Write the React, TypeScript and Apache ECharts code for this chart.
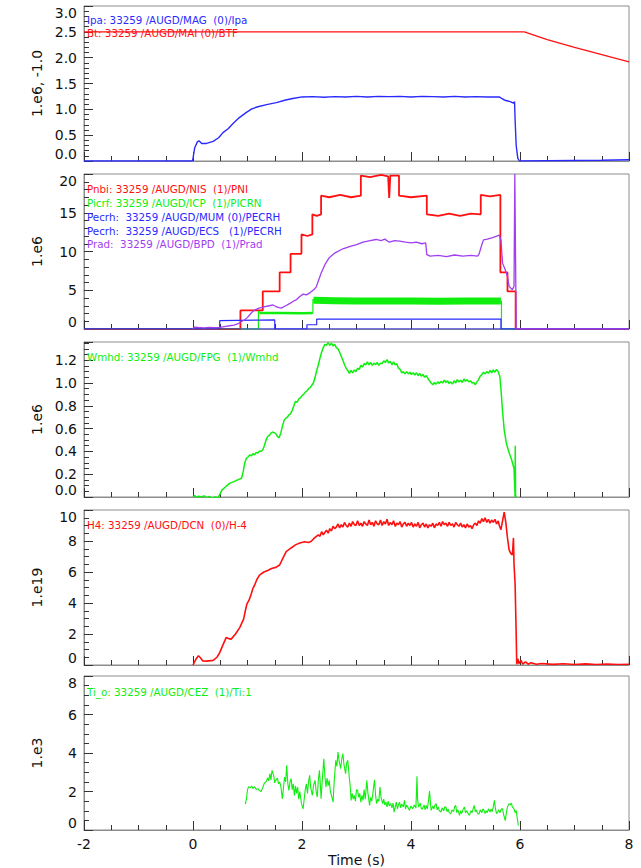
import React, { useEffect, useRef } from "react";
import * as echarts from "echarts";

// ---------------- DATA ----------------
const xTicks = [-2, 0, 2, 4, 6, 8];

// Panel 1 (1.e6, -1.0)
const btData: number[][] = [
  [-2, 2.5], [-1, 2.5], [0, 2.5], [1, 2.5], [2, 2.5], [3, 2.5], [4, 2.5], [5, 2.5], [6.08, 2.5],
  [6.5, 2.35], [7, 2.2], [7.5, 2.06], [8, 1.92],
];
const ipaData: number[][] = [
  [-2, 0], [-0.01, 0], [0.0, 0.05], [0.03, 0.25], [0.08, 0.37], [0.11, 0.39], [0.16, 0.34], [0.25, 0.34],
  [0.37, 0.38], [0.47, 0.45], [0.55, 0.55], [0.65, 0.63], [0.73, 0.72], [0.85, 0.84], [0.98, 0.94],
  [1.08, 1.01], [1.19, 1.05], [1.35, 1.09], [1.53, 1.13], [1.7, 1.18], [1.83, 1.21], [2.0, 1.24],
  [2.2, 1.245], [2.4, 1.235], [2.6, 1.245], [2.8, 1.24], [3.0, 1.25], [3.2, 1.24], [3.4, 1.25], [3.6, 1.245],
  [3.8, 1.25], [4.0, 1.24], [4.2, 1.25], [4.4, 1.245], [4.6, 1.24], [4.8, 1.25], [5.0, 1.24], [5.2, 1.245],
  [5.4, 1.24], [5.62, 1.24], [5.68, 1.2], [5.74, 1.17], [5.82, 1.15], [5.88, 1.12], [5.9, 1.15],
  [5.91, 0.8], [5.93, 0.3], [5.96, 0.05], [5.99, 0.0], [6.5, 0.005], [7, 0.01], [7.5, 0.015], [8, 0.025],
];

// Panel 2 (1.e6)
const pnbiData: number[][] = [
  [-2, 0], [0.87, 0], [0.87, 2.4], [1.28, 2.4], [1.28, 4.85], [1.59, 4.85], [1.59, 7.3], [1.79, 7.3],
  [1.79, 9.7], [1.99, 9.7], [1.99, 12.2], [2.1, 12.0], [2.19, 12.2], [2.19, 14.8], [2.27, 14.6], [2.35, 14.8],
  [2.35, 17.2], [2.5, 17.0], [2.7, 17.3], [2.9, 17.0], [3.08, 17.2], [3.08, 19.8], [3.25, 19.6], [3.45, 19.9],
  [3.58, 19.7], [3.6, 16.9], [3.62, 19.8], [3.78, 19.8], [3.78, 17.2], [4.0, 17.0], [4.29, 17.2],
  [4.29, 14.8], [4.5, 14.6], [4.7, 14.9], [4.9, 14.6], [5.1, 14.9], [5.28, 14.8], [5.28, 17.3],
  [5.45, 17.1], [5.64, 17.3], [5.64, 7.3], [5.77, 7.3], [5.77, 4.85], [5.92, 4.85], [5.92, 0], [8, 0],
];
const picrfData: number[][] = [
  [-2, 0], [1.2, 0], [1.2, 2.3], [1.25, 2.05], [2.2, 2.05], [2.2, 3.8], [5.66, 3.6], [5.66, 0], [8, 0],
];
const picrfBand: number[][] = [
  [1.22, 2.08], [1.6, 2.05], [2.0, 2.02], [2.19, 2.05],
];
const picrfBandHigh: number[][] = [
  [2.21, 3.7], [2.6, 3.65], [3.0, 3.6], [3.5, 3.6], [4.0, 3.62], [4.5, 3.58], [5.0, 3.6], [5.5, 3.6], [5.65, 3.6],
];
const pecrhMumData: number[][] = [
  [-2, 0], [0.49, 0], [0.49, 1.08], [0.8, 1.12], [1.2, 1.15], [1.5, 1.17], [1.5, 0], [8, 0],
];
const pecrhEcsData: number[][] = [
  [-2, 0], [2.09, 0], [2.09, 0.55], [2.27, 0.55], [2.27, 1.28], [5.65, 1.28], [5.65, 0], [8, 0],
];
const pradData: number[][] = [
  [0.0, 0.0], [0.02, 0.25], [0.1, 0.2], [0.2, 0.15], [0.3, 0.2], [0.4, 0.18], [0.5, 0.22], [0.6, 0.35],
  [0.7, 0.45], [0.75, 0.5], [0.82, 0.65], [0.9, 1.0], [0.95, 1.2], [1.0, 1.5], [1.05, 1.9], [1.1, 2.3],
  [1.15, 2.5], [1.2, 2.65], [1.3, 2.85], [1.4, 3.0], [1.47, 3.1], [1.52, 2.9], [1.58, 2.75], [1.62, 2.7],
  [1.7, 3.0], [1.78, 3.3], [1.83, 3.55], [1.9, 3.8], [1.96, 4.2], [2.02, 4.5], [2.08, 4.4], [2.15, 4.7],
  [2.22, 5.1], [2.26, 5.4], [2.3, 6.2], [2.35, 7.2], [2.42, 8.3], [2.5, 9.2], [2.6, 9.8], [2.75, 10.35],
  [2.9, 10.7], [3.0, 10.9], [3.12, 11.2], [3.25, 11.4], [3.36, 11.55], [3.45, 11.4], [3.52, 11.6],
  [3.6, 11.2], [3.7, 11.4], [3.79, 11.35], [3.9, 11.2], [4.0, 11.1], [4.1, 11.2], [4.2, 11.0], [4.27, 11.1],
  [4.29, 9.6], [4.35, 9.4], [4.5, 9.5], [4.65, 9.35], [4.8, 9.55], [4.95, 9.4], [5.1, 9.5], [5.22, 9.4],
  [5.25, 9.7], [5.3, 10.9], [5.33, 11.5], [5.4, 11.6], [5.5, 11.8], [5.62, 12.1], [5.65, 11.5], [5.68, 8.5],
  [5.72, 7.8], [5.77, 6.8], [5.8, 5.5], [5.86, 5.06], [5.89, 5.5], [5.905, 20], [5.915, 20], [5.93, 0], [8, 0],
];

// Panel 3 (1.e6)
const wmhdData: number[][] = [
  [0.0, 0.0], [0.03, 0.012], [0.06, -0.003], [0.1, 0.008], [0.15, 0.0], [0.2, 0.01], [0.25, -0.005],
  [0.3, 0.005], [0.35, -0.01], [0.4, 0.0], [0.46, -0.005], [0.5, 0.03], [0.53, 0.06], [0.6, 0.09],
  [0.67, 0.12], [0.75, 0.135], [0.82, 0.15], [0.89, 0.165], [0.92, 0.22], [0.95, 0.3], [0.98, 0.34],
  [1.01, 0.35], [1.04, 0.37], [1.07, 0.36], [1.1, 0.38], [1.13, 0.37], [1.16, 0.39], [1.19, 0.385],
  [1.22, 0.405], [1.25, 0.4], [1.28, 0.415], [1.31, 0.45], [1.34, 0.5], [1.37, 0.53], [1.4, 0.54],
  [1.43, 0.56], [1.46, 0.57], [1.49, 0.565], [1.52, 0.555], [1.55, 0.53], [1.58, 0.52], [1.61, 0.56],
  [1.64, 0.62], [1.67, 0.67], [1.7, 0.69], [1.73, 0.7], [1.76, 0.72], [1.79, 0.73], [1.82, 0.76],
  [1.85, 0.8], [1.88, 0.84], [1.91, 0.83], [1.94, 0.86], [1.97, 0.87], [2.0, 0.89], [2.03, 0.9],
  [2.06, 0.92], [2.09, 0.93], [2.12, 0.95], [2.15, 0.96], [2.18, 0.98], [2.21, 1.0], [2.24, 1.05],
  [2.27, 1.11], [2.3, 1.16], [2.33, 1.22], [2.36, 1.27], [2.39, 1.31], [2.42, 1.34], [2.45, 1.33],
  [2.48, 1.355], [2.51, 1.33], [2.54, 1.35], [2.57, 1.325], [2.6, 1.34], [2.63, 1.31], [2.66, 1.3],
  [2.69, 1.27], [2.72, 1.235], [2.75, 1.2], [2.78, 1.16], [2.81, 1.13], [2.84, 1.11], [2.87, 1.085],
  [2.9, 1.11], [2.93, 1.09], [2.96, 1.115], [2.99, 1.1], [3.02, 1.13], [3.05, 1.12], [3.08, 1.155],
  [3.11, 1.14], [3.14, 1.17], [3.17, 1.16], [3.2, 1.185], [3.23, 1.16], [3.26, 1.18], [3.29, 1.155],
  [3.32, 1.175], [3.35, 1.16], [3.38, 1.18], [3.41, 1.155], [3.44, 1.175], [3.47, 1.17], [3.5, 1.195],
  [3.53, 1.18], [3.56, 1.205], [3.59, 1.175], [3.62, 1.19], [3.65, 1.16], [3.68, 1.185], [3.71, 1.16],
  [3.74, 1.17], [3.77, 1.13], [3.8, 1.12], [3.83, 1.09], [3.86, 1.1], [3.89, 1.08], [3.92, 1.1],
  [3.95, 1.08], [3.98, 1.095], [4.01, 1.075], [4.04, 1.09], [4.07, 1.07], [4.1, 1.09], [4.13, 1.065],
  [4.16, 1.085], [4.19, 1.06], [4.22, 1.075], [4.25, 1.05], [4.28, 1.065], [4.31, 1.04], [4.34, 1.02],
  [4.37, 1.0], [4.4, 0.985], [4.43, 1.005], [4.46, 0.99], [4.49, 1.01], [4.52, 0.995], [4.55, 1.015],
  [4.58, 1.0], [4.61, 1.025], [4.64, 1.005], [4.67, 1.02], [4.7, 0.995], [4.73, 1.01], [4.76, 0.99],
  [4.79, 1.02], [4.82, 1.0], [4.85, 1.03], [4.88, 1.01], [4.91, 1.025], [4.94, 1.005], [4.97, 1.035],
  [5.0, 1.015], [5.03, 1.03], [5.06, 1.01], [5.09, 1.02], [5.12, 1.0], [5.15, 1.005], [5.18, 0.985],
  [5.21, 1.01], [5.24, 1.03], [5.27, 1.06], [5.3, 1.075], [5.33, 1.095], [5.36, 1.08], [5.39, 1.1],
  [5.42, 1.085], [5.45, 1.11], [5.48, 1.09], [5.51, 1.115], [5.54, 1.095], [5.57, 1.12], [5.6, 1.1],
  [5.63, 1.06], [5.65, 0.95], [5.68, 0.75], [5.71, 0.59], [5.75, 0.47], [5.8, 0.39], [5.85, 0.32],
  [5.89, 0.25], [5.91, 0.0], [5.913, 0.45], [5.918, 0.02], [5.93, 0.0],
];

// Panel 4 (1.e19)
const h4Data: number[][] = [
  [0.0, 0.0], [0.05, 0.35], [0.1, 0.6], [0.14, 0.45], [0.18, 0.26], [0.25, 0.25], [0.37, 0.3], [0.44, 0.5],
  [0.49, 0.8], [0.55, 1.3], [0.61, 1.78], [0.66, 1.7], [0.7, 1.67], [0.78, 2.0], [0.86, 2.43], [0.93, 2.98],
  [0.96, 3.5], [0.99, 3.95], [1.03, 4.2], [1.07, 4.6], [1.1, 4.95], [1.13, 5.15], [1.17, 5.5], [1.22, 5.8],
  [1.3, 6.0], [1.37, 6.1], [1.44, 6.23], [1.52, 6.3], [1.59, 6.45], [1.65, 6.9], [1.71, 7.32], [1.8, 7.55],
  [1.88, 7.75], [1.96, 7.87], [2.05, 7.95], [2.12, 7.9], [2.17, 7.98], [2.23, 8.2], [2.3, 8.4],
  [2.33, 8.3], [2.36, 8.6], [2.39, 8.4], [2.42, 8.55], [2.45, 8.7], [2.48, 8.5], [2.51, 8.8], [2.54, 8.65],
  [2.57, 8.95], [2.6, 8.8], [2.63, 8.9], [2.66, 9.1], [2.69, 8.85], [2.72, 9.05], [2.75, 8.9], [2.78, 9.2],
  [2.81, 9.0], [2.84, 8.9], [2.87, 9.15], [2.9, 8.95], [2.93, 9.25], [2.96, 9.05], [2.99, 9.0], [3.02, 9.3],
  [3.05, 9.0], [3.08, 9.15], [3.11, 8.95], [3.14, 9.25], [3.17, 9.1], [3.2, 9.0], [3.23, 9.35], [3.26, 9.05],
  [3.29, 9.2], [3.32, 8.95], [3.35, 9.3], [3.38, 9.1], [3.41, 9.05], [3.44, 9.35], [3.47, 9.0], [3.5, 9.25],
  [3.53, 9.1], [3.56, 9.4], [3.59, 9.0], [3.62, 9.2], [3.65, 9.05], [3.68, 9.3], [3.71, 8.95], [3.74, 9.15],
  [3.77, 9.05], [3.8, 9.25], [3.83, 8.9], [3.86, 9.1], [3.89, 9.2], [3.92, 8.95], [3.95, 9.15], [3.98, 9.0],
  [4.01, 9.2], [4.04, 8.9], [4.07, 9.1], [4.1, 8.95], [4.13, 9.2], [4.16, 8.85], [4.19, 9.05], [4.22, 9.15],
  [4.25, 8.9], [4.28, 9.1], [4.31, 8.85], [4.34, 9.05], [4.37, 8.95], [4.4, 9.15], [4.43, 8.85], [4.46, 9.1],
  [4.49, 9.0], [4.52, 9.2], [4.55, 8.95], [4.58, 9.25], [4.61, 9.05], [4.64, 9.15], [4.67, 8.95], [4.7, 9.2],
  [4.73, 9.0], [4.76, 9.1], [4.79, 8.9], [4.82, 9.2], [4.85, 9.05], [4.88, 8.95], [4.91, 9.15], [4.94, 8.9],
  [4.97, 9.05], [5.0, 8.85], [5.03, 9.1], [5.06, 8.9], [5.09, 9.0], [5.12, 8.8], [5.15, 9.05], [5.18, 9.15],
  [5.21, 9.0], [5.24, 9.3], [5.27, 9.15], [5.3, 9.45], [5.33, 9.25], [5.36, 9.5], [5.39, 9.2], [5.42, 9.4],
  [5.45, 9.15], [5.48, 9.35], [5.51, 9.2], [5.54, 9.4], [5.57, 9.1], [5.6, 9.3], [5.62, 9.0], [5.65, 8.73],
  [5.68, 9.3], [5.71, 9.86], [5.74, 9.2], [5.77, 8.2], [5.8, 7.43], [5.83, 7.2], [5.86, 7.1], [5.88, 8.2],
  [5.89, 6.5], [5.91, 5.26], [5.93, 2.0], [5.94, 0.05], [5.96, 0.4], [5.98, 0.1], [6.02, 0.3], [6.05, 0.05],
  [6.1, 0.2], [6.15, 0.05], [6.2, 0.15], [6.3, 0.05], [6.4, 0.1], [6.6, 0.04], [6.8, 0.08], [7.0, 0.03],
  [7.2, 0.07], [7.4, 0.03], [7.6, 0.06], [7.8, 0.03], [8.0, 0.05],
];

// Panel 5 (1.e3)
const tiData: number[][] = [
  [0.96, 1.35], [0.98, 1.6], [1.0, 2.1], [1.02, 2.25], [1.05, 2.2], [1.08, 2.28], [1.1, 2.15], [1.13, 2.25],
  [1.16, 2.1], [1.19, 2.15], [1.22, 2.05], [1.25, 2.0], [1.28, 2.2], [1.31, 2.44], [1.34, 2.5], [1.37, 2.7],
  [1.39, 2.55], [1.41, 2.93], [1.43, 2.6], [1.45, 3.1], [1.48, 2.84], [1.5, 2.45], [1.52, 2.58], [1.55, 2.7],
  [1.57, 2.4], [1.59, 2.49], [1.61, 2.3], [1.64, 1.62], [1.66, 2.2], [1.68, 2.75], [1.7, 2.5], [1.72, 3.36],
  [1.74, 2.4], [1.76, 2.06], [1.78, 2.5], [1.8, 2.67], [1.82, 2.1], [1.84, 2.4], [1.86, 1.8], [1.88, 2.3],
  [1.9, 1.9], [1.92, 2.23], [1.94, 1.6], [1.96, 2.0], [1.99, 1.37], [2.02, 1.1], [2.04, 1.6], [2.06, 2.1],
  [2.08, 2.4], [2.1, 1.9], [2.12, 2.5], [2.14, 2.84], [2.16, 2.2], [2.19, 1.8], [2.21, 2.3], [2.24, 2.58],
  [2.26, 2.0], [2.28, 1.71], [2.3, 2.6], [2.32, 3.1], [2.34, 2.2], [2.35, 1.62], [2.37, 2.5], [2.4, 3.7],
  [2.42, 2.8], [2.44, 2.23], [2.46, 2.7], [2.48, 2.3], [2.5, 2.58], [2.52, 2.0], [2.55, 1.7], [2.57, 1.45],
  [2.59, 2.5], [2.62, 3.62], [2.64, 3.3], [2.66, 4.05], [2.68, 3.6], [2.71, 3.19], [2.73, 3.7], [2.75, 3.97],
  [2.77, 3.4], [2.8, 2.93], [2.82, 3.5], [2.84, 3.62], [2.86, 3.0], [2.87, 2.67], [2.89, 2.1], [2.9, 1.54],
  [2.92, 1.9], [2.94, 1.6], [2.96, 1.8], [2.98, 1.5], [3.0, 2.1], [3.02, 2.06], [3.04, 1.7], [3.06, 1.9],
  [3.08, 1.45], [3.1, 1.8], [3.12, 1.54], [3.14, 2.1], [3.16, 1.6], [3.19, 2.58], [3.21, 1.9], [3.24, 1.28],
  [3.26, 1.7], [3.28, 1.5], [3.3, 1.9], [3.33, 2.61], [3.35, 1.8], [3.37, 1.37], [3.39, 1.6], [3.41, 1.5],
  [3.43, 2.23], [3.45, 1.7], [3.48, 1.37], [3.5, 1.6], [3.52, 1.3], [3.54, 1.45], [3.56, 1.2], [3.58, 1.5],
  [3.6, 1.25], [3.63, 1.37], [3.65, 1.15], [3.67, 1.4], [3.69, 0.93], [3.71, 1.2], [3.73, 1.45], [3.75, 1.1],
  [3.77, 1.3], [3.79, 1.45], [3.81, 1.15], [3.83, 1.35], [3.86, 1.2], [3.88, 1.54], [3.9, 1.1], [3.92, 1.3],
  [3.95, 1.15], [3.97, 1.02], [4.0, 1.25], [4.03, 1.1], [4.06, 1.3], [4.09, 1.15], [4.11, 2.79], [4.12, 1.6],
  [4.14, 1.19], [4.17, 1.4], [4.19, 1.1], [4.21, 1.1], [4.24, 1.3], [4.26, 1.05], [4.28, 1.28], [4.3, 1.1],
  [4.32, 1.5], [4.34, 2.02], [4.36, 1.3], [4.37, 1.02], [4.4, 1.25], [4.42, 1.1], [4.44, 1.3], [4.46, 1.37],
  [4.48, 1.05], [4.5, 1.2], [4.52, 1.0], [4.55, 0.93], [4.57, 1.15], [4.6, 1.0], [4.62, 1.2], [4.64, 1.19],
  [4.66, 0.95], [4.68, 1.1], [4.7, 0.9], [4.73, 0.84], [4.75, 1.05], [4.78, 0.95], [4.8, 1.2], [4.82, 1.28],
  [4.84, 0.9], [4.86, 1.05], [4.89, 0.76], [4.91, 1.0], [4.93, 0.85], [4.96, 1.1], [4.98, 1.19], [5.0, 0.9],
  [5.02, 1.0], [5.05, 0.85], [5.07, 0.76], [5.1, 1.0], [5.12, 0.9], [5.14, 1.1], [5.16, 1.28], [5.18, 0.95],
  [5.2, 1.05], [5.22, 0.85], [5.25, 0.84], [5.27, 1.05], [5.3, 0.9], [5.32, 1.1], [5.34, 1.02], [5.36, 0.85],
  [5.38, 1.0], [5.4, 0.9], [5.42, 1.1], [5.45, 0.93], [5.47, 1.1], [5.49, 0.95], [5.51, 1.2], [5.53, 1.54],
  [5.55, 1.1], [5.57, 0.85], [5.59, 0.93], [5.61, 1.05], [5.63, 0.9], [5.66, 1.1], [5.68, 1.1], [5.7, 0.8],
  [5.73, 0.49], [5.75, 0.9], [5.77, 1.2], [5.8, 1.37], [5.82, 1.3], [5.84, 1.4], [5.86, 1.2], [5.89, 1.1],
  [5.91, 0.9], [5.93, 1.02], [5.95, 0.6], [5.97, 0.23],
];

const yNames = ["1.e6, -1.0", "1.e6", "1.e6", "1.e19", "1.e3"];
const yMins = [0, 0, 0, 0, 0];
const yMaxs = [3, 20, 1.36, 10, 8];
const yIntervals = [0.5, 5, 0.2, 2, 2];
const yMinorSplits = [5, 5, 4, 4, 4];
const yDecimals = [1, 0, 1, 0, 0];

const legendTexts = [
  ["Ipa: 33259 /AUGD/MAG  (0)/Ipa", "Bt: 33259 /AUGD/MAI (0)/BTF"],
  [
    "Pnbi: 33259 /AUGD/NIS  (1)/PNI",
    "Picrf: 33259 /AUGD/ICP  (1)/PICRN",
    "Pecrh:  33259 /AUGD/MUM (0)/PECRH",
    "Pecrh:  33259 /AUGD/ECS   (1)/PECRH",
    "Prad:  33259 /AUGD/BPD  (1)/Prad",
  ],
  ["Wmhd: 33259 /AUGD/FPG  (1)/Wmhd"],
  ["H4: 33259 /AUGD/DCN  (0)/H-4"],
  ["Ti_o: 33259 /AUGD/CEZ  (1)/Ti:1"],
];

// ---------------- LAYOUT / STYLE ----------------
const RED = "#ff1010";
const BLUE = "#2a2aff";
const GREEN = "#10ee10";
const PURPLE = "#a03ef0";
const legendColors = [[BLUE, RED], [RED, GREEN, BLUE, BLUE, PURPLE], [GREEN], [RED], [GREEN]];

const GRID_TOPS = [6, 174, 342, 510, 676];
const GRID_H = 155;
const GRID_LEFT = 84;
const GRID_W = 545;
const FONT = '"DejaVu Sans", sans-serif';

export default function App() {
  const ref = useRef<HTMLDivElement>(null);
  useEffect(() => {
    if (!ref.current) return;
    const chart = echarts.init(ref.current, undefined, { renderer: "svg" });

    const grids = GRID_TOPS.map((top) => ({
      left: GRID_LEFT,
      top,
      width: GRID_W,
      height: GRID_H,
      show: true,
      borderColor: "#8c8c8c",
      borderWidth: 1,
      backgroundColor: "transparent",
    }));

    const xAxes = GRID_TOPS.map((_, i) => ({
      type: "value",
      gridIndex: i,
      min: xTicks[0],
      max: xTicks[xTicks.length - 1],
      interval: 2,
      axisLine: { show: true, onZero: false, lineStyle: { color: "#8c8c8c", width: 1 } },
      axisTick: { show: true, inside: true, length: 9, lineStyle: { color: "#333" } },
      minorTick: { show: true, splitNumber: 4, length: 5, lineStyle: { color: "#333" } },
      splitLine: { show: false },
      axisLabel: {
        show: i === 4,
        color: "#111",
        fontSize: 14,
        fontFamily: FONT,
        margin: 7,
      },
      name: i === 4 ? "Time (s)" : "",
      nameLocation: "middle",
      nameGap: 23,
      nameTextStyle: { color: "#111", fontSize: 14, fontFamily: FONT },
    }));

    const yAxes = GRID_TOPS.map((_, i) => ({
      type: "value",
      gridIndex: i,
      min: yMins[i],
      max: yMaxs[i],
      interval: yIntervals[i],
      axisLine: { show: true, onZero: false, lineStyle: { color: "#8c8c8c", width: 1 } },
      axisTick: { show: true, inside: true, length: 9, lineStyle: { color: "#333" } },
      minorTick: { show: true, splitNumber: yMinorSplits[i], length: 5, lineStyle: { color: "#333" } },
      splitLine: { show: false },
      axisLabel: {
        color: "#111",
        fontSize: 14,
        fontFamily: FONT,
        margin: 7,
        showMaxLabel: i !== 2,
        verticalAlignMinLabel: "bottom",
        verticalAlignMaxLabel: i !== 2 ? "top" : "middle",
        formatter: (v: number) => {
          if (i === 2 && v > 1.3) return "";
          return v.toFixed(yDecimals[i]);
        },
      },
      name: yNames[i],
      nameLocation: "middle",
      nameGap: 40,
      nameRotate: 90,
      nameTextStyle: { color: "#111", fontSize: 14, fontFamily: FONT },
    }));

    const line = (data: number[][], idx: number, color: string, width: number, z = 2) => ({
      type: "line",
      xAxisIndex: idx,
      yAxisIndex: idx,
      data,
      showSymbol: false,
      symbol: "none",
      clip: true,
      z,
      lineStyle: { color, width },
      itemStyle: { color },
      emphasis: { disabled: true },
    });

    const series = [
      line(btData, 0, RED, 1.2),
      line(ipaData, 0, BLUE, 1.4),
      line(pnbiData, 1, RED, 1.8),
      line(picrfData, 1, GREEN, 1.2),
      line(picrfBand, 1, GREEN, 2.5),
      line(picrfBandHigh, 1, GREEN, 7),
      line(pecrhMumData, 1, BLUE, 1.2),
      line(pecrhEcsData, 1, BLUE, 1.2),
      line(pradData, 1, PURPLE, 1.3),
      line(wmhdData, 2, GREEN, 1.5),
      line(h4Data, 3, RED, 1.6),
      line(tiData, 4, GREEN, 1.1),
    ];

    const legendOffsets = [[14, 27], [15, 29, 43, 57, 70], [15], [15], [16]];
    const graphic: any[] = [];
    legendTexts.forEach((texts, gi) => {
      texts.forEach((t, k) => {
        graphic.push({
          type: "text",
          x: GRID_LEFT + 3,
          y: GRID_TOPS[gi] + legendOffsets[gi][k],
          z: 100,
          style: {
            text: t,
            fill: legendColors[gi][k],
            fontSize: 10.3,
            fontFamily: FONT,
            verticalAlign: "middle",
          },
        });
      });
    });

    chart.setOption({
      animation: false,
      backgroundColor: "#ffffff",
      grid: grids,
      xAxis: xAxes,
      yAxis: yAxes,
      series,
      graphic,
    });

    return () => chart.dispose();
  }, []);

  return (
    <div
      ref={ref}
      style={{ position: "fixed", left: 0, top: 0, width: 641, height: 868, background: "#fff" }}
    />
  );
}
